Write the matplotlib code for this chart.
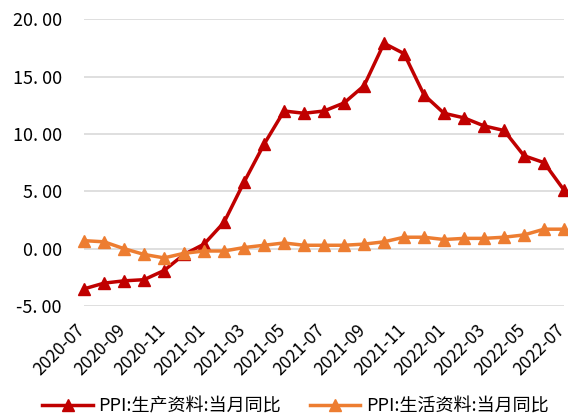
import matplotlib
matplotlib.use("Agg")
from matplotlib import pyplot as plt
from matplotlib import transforms

plt.rcParams["font.family"] = ["Noto Sans CJK SC", "DejaVu Sans"]

months = [
    "2020-07", "2020-08", "2020-09", "2020-10", "2020-11", "2020-12",
    "2021-01", "2021-02", "2021-03", "2021-04", "2021-05", "2021-06",
    "2021-07", "2021-08", "2021-09", "2021-10", "2021-11", "2021-12",
    "2022-01", "2022-02", "2022-03", "2022-04", "2022-05", "2022-06",
    "2022-07",
]
producer = [
    -3.5, -3.0, -2.8, -2.7, -1.9, -0.5, 0.4, 2.3, 5.8, 9.1, 12.0, 11.8,
    12.0, 12.7, 14.2, 17.9, 17.0, 13.4, 11.8, 11.4, 10.7, 10.3, 8.1, 7.5,
    5.1,
]
consumer = [
    0.7, 0.6, 0.0, -0.5, -0.8, -0.4, -0.2, -0.2, 0.1, 0.3, 0.5, 0.3,
    0.3, 0.3, 0.4, 0.6, 1.0, 1.0, 0.8, 0.9, 0.9, 1.0, 1.2, 1.7, 1.7,
]
yticks = [-5, 0, 5, 10, 15, 20]

fig = plt.figure(figsize=(5.68, 4.17), dpi=100)
ax = fig.add_axes([0.148, 0.266, 0.845, 0.688])

x = list(range(len(months)))
ax.plot(x, producer, color="#C00000", lw=2.5, marker="^", ms=8,
        label="PPI:生产资料:当月同比", clip_on=False, zorder=3)
ax.plot(x, consumer, color="#ED7D31", lw=2.5, marker="^", ms=8,
        label="PPI:生活资料:当月同比", clip_on=False, zorder=3)

ax.set_xlim(0, len(months) - 1)
ax.set_ylim(-5, 20)
ax.set_yticks(yticks)
ax.set_yticklabels([f"{v:.2f}".replace(".", ". ") for v in yticks], fontsize=13)
ax.set_xticks(x[::2])
ax.set_xticklabels(months[::2], rotation=45, ha="right", rotation_mode="anchor",
                   fontsize=12.5)
ax.grid(axis="y", color="#D9D9D9", lw=1.2)
ax.set_axisbelow(True)
for s in ax.spines.values():
    s.set_visible(False)
ax.tick_params(axis="y", length=0, pad=16)
ax.tick_params(axis="x", length=0, pad=11)
shift = transforms.ScaledTranslation(-8 / 100, 0, fig.dpi_scale_trans)
for lbl in ax.get_xticklabels():
    lbl.set_transform(lbl.get_transform() + shift)

fig.legend(loc="lower center", bbox_to_anchor=(0.52, -0.035), ncol=2,
           frameon=False, fontsize=13, handlelength=2.8, handletextpad=0.3,
           columnspacing=1.6)

fig.savefig("out.png", dpi=100)
